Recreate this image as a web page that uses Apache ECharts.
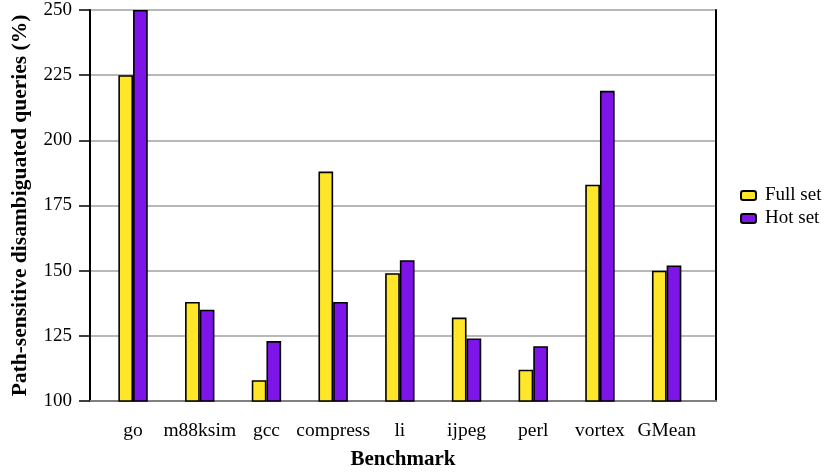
<!DOCTYPE html>
<html>
<head>
<meta charset="utf-8">
<style>
  html, body { margin: 0; padding: 0; background: #ffffff; }
  #chart { width: 825px; height: 472px; }
</style>
<script src="https://cdn.jsdelivr.net/npm/echarts@6/dist/echarts.min.js"></script>
</head>
<body>
<div id="chart"></div>
<script>
// Benchmarks on the x axis
const benchmarks = ['go', 'm88ksim', 'gcc', 'compress', 'li', 'ijpeg', 'perl', 'vortex', 'GMean'];
// Path-sensitive disambiguated queries, percent
const fullSet = [225, 138, 108, 188, 149, 132, 112, 183, 150];
const hotSet  = [250, 135, 123, 138, 154, 124, 121, 219, 152];
// Value axis ticks
const yTicks = [100, 125, 150, 175, 200, 225, 250];

const font = 'Liberation Serif, Times New Roman, serif';
const yMin = yTicks[0];
const yMax = yTicks[yTicks.length - 1];
const yStep = yTicks[1] - yTicks[0];

const chart = echarts.init(document.getElementById('chart'), null, { renderer: 'canvas' });

chart.setOption({
  backgroundColor: '#ffffff',
  animation: false,
  textStyle: { fontFamily: font },
  legend: {
    orient: 'vertical',
    left: 735,
    top: 181,
    itemWidth: 15,
    itemHeight: 9,
    itemGap: 4,
    textStyle: { fontFamily: font, fontSize: 19, color: '#000', padding: [0, 0, 0, 4] },
    data: ['Full set', 'Hot set']
  },
  grid: [
    // plot frame with axes and gridlines
    { left: 90, right: 109, top: 10, bottom: 71, outerBoundsMode: 'none', containLabel: false },
    // area holding the bar groups
    { left: 99.7, width: 600.3, top: 10, bottom: 71, outerBoundsMode: 'none', containLabel: false }
  ],
  xAxis: [
    {
      gridIndex: 0,
      type: 'value',
      min: 0, max: 1,
      axisLine: { show: true, lineStyle: { color: '#808080', width: 2 } },
      axisTick: { show: false },
      axisLabel: { show: false },
      splitLine: { show: false },
      name: 'Benchmark',
      nameLocation: 'middle',
      nameGap: 48,
      nameTextStyle: { fontFamily: font, fontSize: 21, fontWeight: 'bold', color: '#000' }
    },
    {
      gridIndex: 1,
      type: 'category',
      data: benchmarks,
      axisLine: { show: false },
      axisTick: { show: false },
      axisLabel: { interval: 0, fontFamily: font, fontSize: 19.5, color: '#000', margin: 20 }
    }
  ],
  yAxis: [
    {
      gridIndex: 0,
      type: 'value',
      min: yMin, max: yMax, interval: yStep,
      axisLine: { show: true, lineStyle: { color: '#000', width: 2 } },
      axisTick: { show: true, inside: false, length: 11, lineStyle: { color: '#000', width: 1.5 } },
      axisLabel: { fontFamily: font, fontSize: 19, color: '#000', margin: 18 },
      splitLine: { show: true, lineStyle: { color: '#a0a0a0', width: 1.5 } },
      name: 'Path-sensitive disambiguated queries (%)',
      nameLocation: 'middle',
      nameGap: 59,
      nameTextStyle: { fontFamily: font, fontSize: 21.5, fontWeight: 'bold', color: '#000' }
    },
    {
      gridIndex: 0,
      type: 'value',
      position: 'right',
      min: yMin, max: yMax, interval: yStep,
      axisLine: { show: true, lineStyle: { color: '#000', width: 2 } },
      axisTick: { show: false },
      axisLabel: { show: false },
      splitLine: { show: false }
    },
    {
      gridIndex: 1,
      type: 'value',
      min: yMin, max: yMax, interval: yStep,
      show: false
    }
  ],
  series: [
    {
      name: 'Full set',
      type: 'bar',
      xAxisIndex: 1,
      yAxisIndex: 2,
      data: fullSet,
      barWidth: 14.7,
      barGap: '0%',
      itemStyle: { color: '#FFE628', borderColor: '#000', borderWidth: 1.6 }
    },
    {
      name: 'Hot set',
      type: 'bar',
      xAxisIndex: 1,
      yAxisIndex: 2,
      data: hotSet,
      barWidth: 14.7,
      barGap: '0%',
      itemStyle: { color: '#7D14E8', borderColor: '#000', borderWidth: 1.6 }
    }
  ]
});
</script>
</body>
</html>
